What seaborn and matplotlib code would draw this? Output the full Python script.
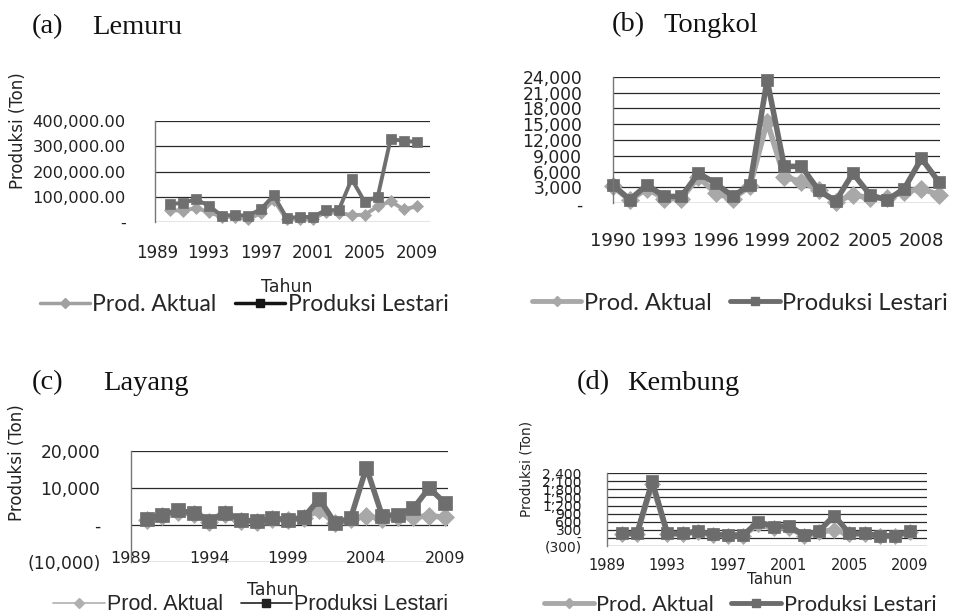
import matplotlib
matplotlib.use('Agg')
import matplotlib.pyplot as plt
from matplotlib.lines import Line2D
import pandas as pd
import seaborn as sns

# data (ton)
tahun = list(range(1990, 2010))

lemuru_aktual = [47000, 45000, 55000, 40000, 20000, 20000, 10000, 35000, 88000, 10000,
                 10000, 10000, 40000, 35000, 28000, 28000, 62000, 82000, 50000, 62000]
lemuru_lestari = [72000, 75000, 90000, 65000, 25000, 28000, 25000, 50000, 105000, 16000,
                  20000, 20000, 47000, 47000, 170000, 80000, 100000, 330000, 320000, 318000]

tongkol_aktual = [3200, 600, 2800, 900, 900, 5000, 1900, 900, 3200, 15500,
                  5000, 4100, 2500, 300, 1600, 1000, 1000, 2200, 2800, 1600]
tongkol_lestari = [3500, 700, 3500, 1300, 1300, 5700, 3800, 1300, 3500, 23400,
                   7000, 7000, 2500, 400, 5700, 1600, 600, 2800, 8500, 4100]

layang_aktual = [1300, 2500, 3500, 2800, 800, 3000, 1000, 800, 1600, 1200,
                 1800, 4000, 400, 1500, 2500, 1500, 2000, 2000, 2500, 2000]
layang_lestari = [1500, 2700, 3900, 3200, 1100, 3200, 1400, 900, 1800, 1400,
                  2000, 7000, 500, 1800, 15500, 2500, 2700, 4500, 10000, 5900]

kembung_aktual = [140, 140, 2000, 140, 140, 220, 100, 80, 80, 520,
                  350, 380, 80, 220, 290, 140, 140, 60, 60, 200]
kembung_lestari = [160, 160, 2100, 160, 160, 250, 125, 100, 100, 600,
                   410, 440, 100, 250, 825, 160, 160, 75, 75, 250]

# tick
xt_a = [1989, 1993, 1997, 2001, 2005, 2009]
yt_a = [0, 100000, 200000, 300000, 400000]
yl_a = ['-', '100,000.00', '200,000.00', '300,000.00', '400,000.00']

xt_b = [1990, 1993, 1996, 1999, 2002, 2005, 2008]
yt_b = [0, 3000, 6000, 9000, 12000, 15000, 18000, 21000, 24000]
yl_b = ['-', '3,000', '6,000', '9,000', '12,000', '15,000', '18,000', '21,000', '24,000']

xt_c = [1989, 1994, 1999, 2004, 2009]
yt_c = [-10000, 0, 10000, 20000]
yl_c = ['(10,000)', '-', '10,000', '20,000']

xt_d = [1989, 1993, 1997, 2001, 2005, 2009]
yt_d = [-300, 0, 300, 600, 900, 1200, 1500, 1800, 2100, 2400]
yl_d = ['(300)', '-', '300', '600', '900', '1,200', '1,500', '1,800', '2,100', '2,400']

sns.set_theme(style='white')
plt.rcParams['font.family'] = ['DejaVu Sans']

W, H = 956, 615
fig = plt.figure(figsize=(W / 100, H / 100), dpi=100)


def kotak(l, t, r, b):
    return [l / W, 1 - b / H, (r - l) / W, (b - t) / H]


def panel(ax, aktual, lestari, lw, ms, c_akt, c_les):
    df = pd.DataFrame({'Tahun': tahun * 2,
                       'Produksi': aktual + lestari,
                       'Seri': ['Prod. Aktual'] * 20 + ['Produksi Lestari'] * 20})
    sns.lineplot(data=df, x='Tahun', y='Produksi', hue='Seri', style='Seri',
                 markers={'Prod. Aktual': 'D', 'Produksi Lestari': 's'}, dashes=False,
                 palette={'Prod. Aktual': c_akt, 'Produksi Lestari': c_les},
                 linewidth=lw, markersize=ms, legend=False, ax=ax, clip_on=False)
    for ln in ax.lines:
        ln.set_markeredgecolor(ln.get_color())
        ln.set_markeredgewidth(0.5)
    ax.set_xlabel('')
    ax.set_ylabel('')
    for s in ['top', 'right', 'bottom']:
        ax.spines[s].set_visible(False)
    ax.spines['left'].set_color('#777777')
    ax.spines['left'].set_linewidth(1.0)
    ax.grid(axis='y', color='#2a2a2a', linewidth=0.9)
    ax.grid(axis='x', visible=False)
    ax.set_axisbelow(True)


def legenda(x, y, c_akt, c_les, fs, lw_leg, hl, family='Lato'):
    h = [Line2D([], [], color=c_akt, lw=lw_leg, marker='D', ms=5, mec=c_akt),
         Line2D([], [], color=c_les, lw=lw_leg, marker='s', ms=5.5, mec=c_les)]
    fig.legend(h, ['Prod. Aktual', 'Produksi Lestari'], loc='center',
               bbox_to_anchor=(x / W, 1 - y / H), ncol=2, frameon=False,
               handlelength=hl, handletextpad=0.1, columnspacing=0.8,
               prop={'family': family, 'size': fs})


def judul(x1, x2, y, huruf, nama):
    fig.text(x1 / W, 1 - y / H, huruf, family='Liberation Serif', fontsize=20.5,
             ha='left', va='center', color='#111111')
    fig.text(x2 / W, 1 - y / H, nama, family='Liberation Serif', fontsize=20.5,
             ha='left', va='center', color='#111111')


def ylabel(x, y, fs):
    fig.text(x / W, 1 - y / H, 'Produksi (Ton)', rotation=90, fontsize=fs,
             ha='center', va='center', color='#222222')


# (a) Lemuru
ax_a = fig.add_axes(kotak(155.4, 121, 429.7, 222))
panel(ax_a, lemuru_aktual, lemuru_lestari, 2.8, 6.5, '#a3a3a3', '#6f6f6f')
ax_a.set_xlim(1988.9, 2010.0)
ax_a.set_ylim(0, 400000)
ax_a.set_xticks(xt_a)
ax_a.set_xticklabels([str(t) for t in xt_a])
ax_a.set_yticks(yt_a)
ax_a.set_yticklabels(yl_a)
ax_a.tick_params(axis='x', length=4, pad=14, labelsize=12, colors='#222222', direction='inout')
ax_a.tick_params(axis='y', length=0, pad=21.5, labelsize=11.7, colors='#222222')
judul(32, 92, 27, '(a)', 'Lemuru')
ylabel(18, 131, 12)
fig.text(287 / W, 1 - 287 / H, 'Tahun', fontsize=12.5, ha='center', va='center', color='#222222')
legenda(244, 305, '#a0a0a0', '#151515', 16.5, 2.5, 2.2)

# (b) Tongkol
ax_b = fig.add_axes(kotak(612.7, 76.7, 939.5, 203.3))
panel(ax_b, tongkol_aktual, tongkol_lestari, 4, 9, '#a8a8a8', '#6c6c6c')
ax_b.set_xlim(1990, 2009.05)
ax_b.set_ylim(0, 24000)
ax_b.set_xticks(xt_b)
ax_b.set_xticklabels([str(t) for t in xt_b])
ax_b.set_yticks(yt_b)
ax_b.set_yticklabels(yl_b)
ax_b.tick_params(axis='x', length=4, pad=19, labelsize=13, colors='#222222', direction='inout')
ax_b.tick_params(axis='y', length=0, pad=22, labelsize=12.3, colors='#222222')
judul(612, 663, 25, '(b)', 'Tongkol')
legenda(740, 303, '#a8a8a8', '#6c6c6c', 17, 3.5, 2.1)

# (c) Layang
ax_c = fig.add_axes(kotak(131, 451, 448, 561.7))
panel(ax_c, layang_aktual, layang_lestari, 4, 9.5, '#a8a8a8', '#6e6e6e')
ax_c.set_xlim(1989.1, 2009.2)
ax_c.set_ylim(-10000, 20000)
ax_c.set_xticks(xt_c)
ax_c.set_xticklabels([str(t) for t in xt_c])
ax_c.set_yticks(yt_c)
ax_c.set_yticklabels(yl_c)
ax_c.tick_params(axis='x', length=0, pad=-8, labelsize=11.5, colors='#222222')
ax_c.tick_params(axis='y', length=0, pad=22, labelsize=12.3, colors='#222222')
judul(32, 103, 383, '(c)', 'Layang')
ylabel(17, 463, 12)
fig.text(273 / W, 1 - 590 / H, 'Tahun', fontsize=12.5, ha='center', va='center', color='#222222')
legenda(251, 605, '#b0b0b0', '#222222', 15.5, 1.2, 2.4, family='Liberation Sans')

# (d) Kembung
ax_d = fig.add_axes(kotak(606.7, 473.3, 926.7, 545.8))
panel(ax_d, kembung_aktual, kembung_lestari, 4, 8.5, '#a8a8a8', '#6c6c6c')
ax_d.set_xlim(1989, 2010.1)
ax_d.set_ylim(-300, 2400)
ax_d.set_xticks(xt_d)
ax_d.set_xticklabels([str(t) for t in xt_d])
ax_d.set_yticks(yt_d)
ax_d.set_yticklabels(yl_d)
ax_d.tick_params(axis='x', length=0, pad=9, labelsize=10.5, colors='#222222')
ax_d.tick_params(axis='y', length=0, pad=18, labelsize=10, colors='#222222')
judul(577, 627, 383, '(d)', 'Kembung')
ylabel(527, 469, 9.8)
fig.text(770 / W, 1 - 580 / H, 'Tahun', fontsize=11, ha='center', va='center', color='#222222')
legenda(740, 605, '#a8a8a8', '#6c6c6c', 15.7, 3.5, 2.3)

fig.savefig('out.png', dpi=100, facecolor='white')
